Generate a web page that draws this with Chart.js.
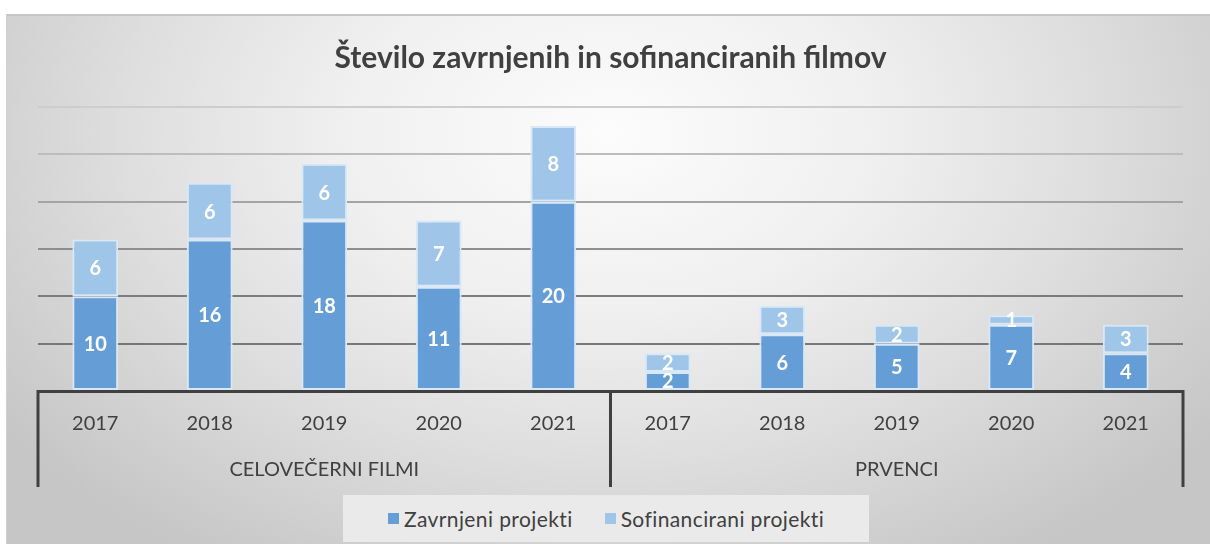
<!DOCTYPE html>
<html>
<head>
<meta charset="utf-8">
<script src="https://cdn.jsdelivr.net/npm/chart.js@4.4.0/dist/chart.umd.min.js"></script>
<style>
  html, body { margin: 0; padding: 0; background: #fff; }
  #frame {
    position: absolute; left: 6px; top: 14px; width: 1204px; height: 530px;
    border-top: 2px solid #c4c4c4; border-left: 1px solid #d0d0d0;
    background: radial-gradient(ellipse 62% 95% at 50% 22%, #fcfcfc 0%, #f0f0f0 35%, #dedede 65%, #c6c6c6 100%);
  }
  #wrap { position: absolute; left: 0; top: 0; width: 1210px; height: 544px; }
  #legend {
    position: absolute; top: 495px; left: 343px; width: 526px; height: 47px;
    background: #eaeaea; display: flex; align-items: center; justify-content: center;
    font: 21px Lato, sans-serif; color: #404040; letter-spacing: 0.4px;
  }
  #legend span.item { display: inline-flex; align-items: center; margin: 0 16px; }
  #legend span.box { width: 11px; height: 11px; margin-right: 5px; display: inline-block; }
</style>
</head>
<body>
<div id="frame"></div>
<div id="wrap"><canvas id="chart" width="1210" height="544"></canvas></div>
<div id="legend"></div>
<script>
// podatki
var years = ['2017', '2018', '2019', '2020', '2021', '2017', '2018', '2019', '2020', '2021'];
var groups = ['CELOVEČERNI FILMI', 'PRVENCI'];
var seriesNames = ['Zavrnjeni projekti', 'Sofinancirani projekti'];
var zavrnjeni = [10, 16, 18, 11, 20, 2, 6, 5, 7, 4];
var sofinancirani = [6, 6, 6, 7, 8, 2, 3, 2, 1, 3];
var colors = ['#659ed6', '#9fc5e9'];

// gridlines get lighter towards the top, like in the original
var gridColors = { 0: 'rgba(0,0,0,0)', 5: '#777777', 10: '#7c7c7c', 15: '#8e8e8e', 20: '#a4a4a4', 25: '#bdbdbd', 30: '#cdcdcd' };

// white numbers in the middle of every segment
var barLabels = {
  id: 'barLabels',
  afterDatasetsDraw: function(chart) {
    var ctx = chart.ctx;
    ctx.save();
    ctx.font = 'bold 20px Lato';
    ctx.fillStyle = '#ffffff';
    ctx.textAlign = 'center';
    ctx.textBaseline = 'middle';
    chart.data.datasets.forEach(function(ds, i) {
      chart.getDatasetMeta(i).data.forEach(function(bar, j) {
        ctx.fillText(ds.data[j], bar.x, (bar.y + bar.base) / 2 + 1);
      });
    });
    ctx.restore();
  }
};

// vertical lines between the two groups
var groupLines = {
  id: 'groupLines',
  afterDraw: function(chart) {
    var x = chart.scales.x;
    var ctx = chart.ctx;
    var mid = (x.getPixelForValue(4) + x.getPixelForValue(5)) / 2;
    ctx.save();
    ctx.strokeStyle = '#404040';
    ctx.lineWidth = 3;
    [x.left, mid, x.right].forEach(function(px) {
      ctx.beginPath();
      ctx.moveTo(px, x.top - 1);
      ctx.lineTo(px, x.top + 96);
      ctx.stroke();
    });
    ctx.restore();
  }
};

var chart = new Chart(document.getElementById('chart').getContext('2d'), {
  type: 'bar',
  data: {
    labels: years,
    datasets: [{
      label: seriesNames[0],
      data: zavrnjeni,
      backgroundColor: colors[0],
      borderColor: '#d8e8f7',
      borderWidth: 2,
      borderSkipped: false
    }, {
      label: seriesNames[1],
      data: sofinancirani,
      backgroundColor: colors[1],
      borderColor: '#d8e8f7',
      borderWidth: 2,
      borderSkipped: false
    }]
  },
  options: {
    responsive: false,
    animation: false,
    events: [],
    barPercentage: 0.4,
    categoryPercentage: 1.0,
    layout: { padding: { left: 38, right: 27, top: 0, bottom: 61 } },
    plugins: {
      legend: { display: false },
      tooltip: { enabled: false },
      title: {
        display: true,
        text: 'Število zavrnjenih in sofinanciranih filmov',
        color: '#404040',
        font: { family: 'Lato', size: 30, weight: 'bold' },
        padding: { top: 40, bottom: 31 }
      }
    },
    scales: {
      x: {
        stacked: true,
        weight: 0,
        grid: { display: false, drawTicks: false },
        border: { display: true, color: '#404040', width: 3 },
        ticks: { color: '#404040', font: { family: 'Lato', size: 20 }, padding: 21, maxRotation: 0, autoSkip: false }
      },
      x2: {
        type: 'category',
        labels: groups,
        position: 'bottom',
        offset: true,
        weight: 1,
        grid: { display: false, drawTicks: false },
        border: { display: false },
        ticks: { color: '#404040', font: { family: 'Lato', size: 20 }, padding: 1, maxRotation: 0 }
      },
      y: {
        stacked: true,
        min: 0,
        max: 30,
        ticks: { display: false, stepSize: 5 },
        border: { display: false },
        grid: {
          drawTicks: false,
          lineWidth: 2,
          color: function(c) { return gridColors[c.tick.value] || '#999999'; }
        }
      }
    }
  },
  plugins: [barLabels, groupLines]
});

// legend in html so it can sit in its own light box
var legend = document.getElementById('legend');
seriesNames.forEach(function(name, i) {
  var item = document.createElement('span');
  item.className = 'item';
  var box = document.createElement('span');
  box.className = 'box';
  box.style.background = colors[i];
  item.appendChild(box);
  item.appendChild(document.createTextNode(name));
  legend.appendChild(item);
});
</script>
</body>
</html>
